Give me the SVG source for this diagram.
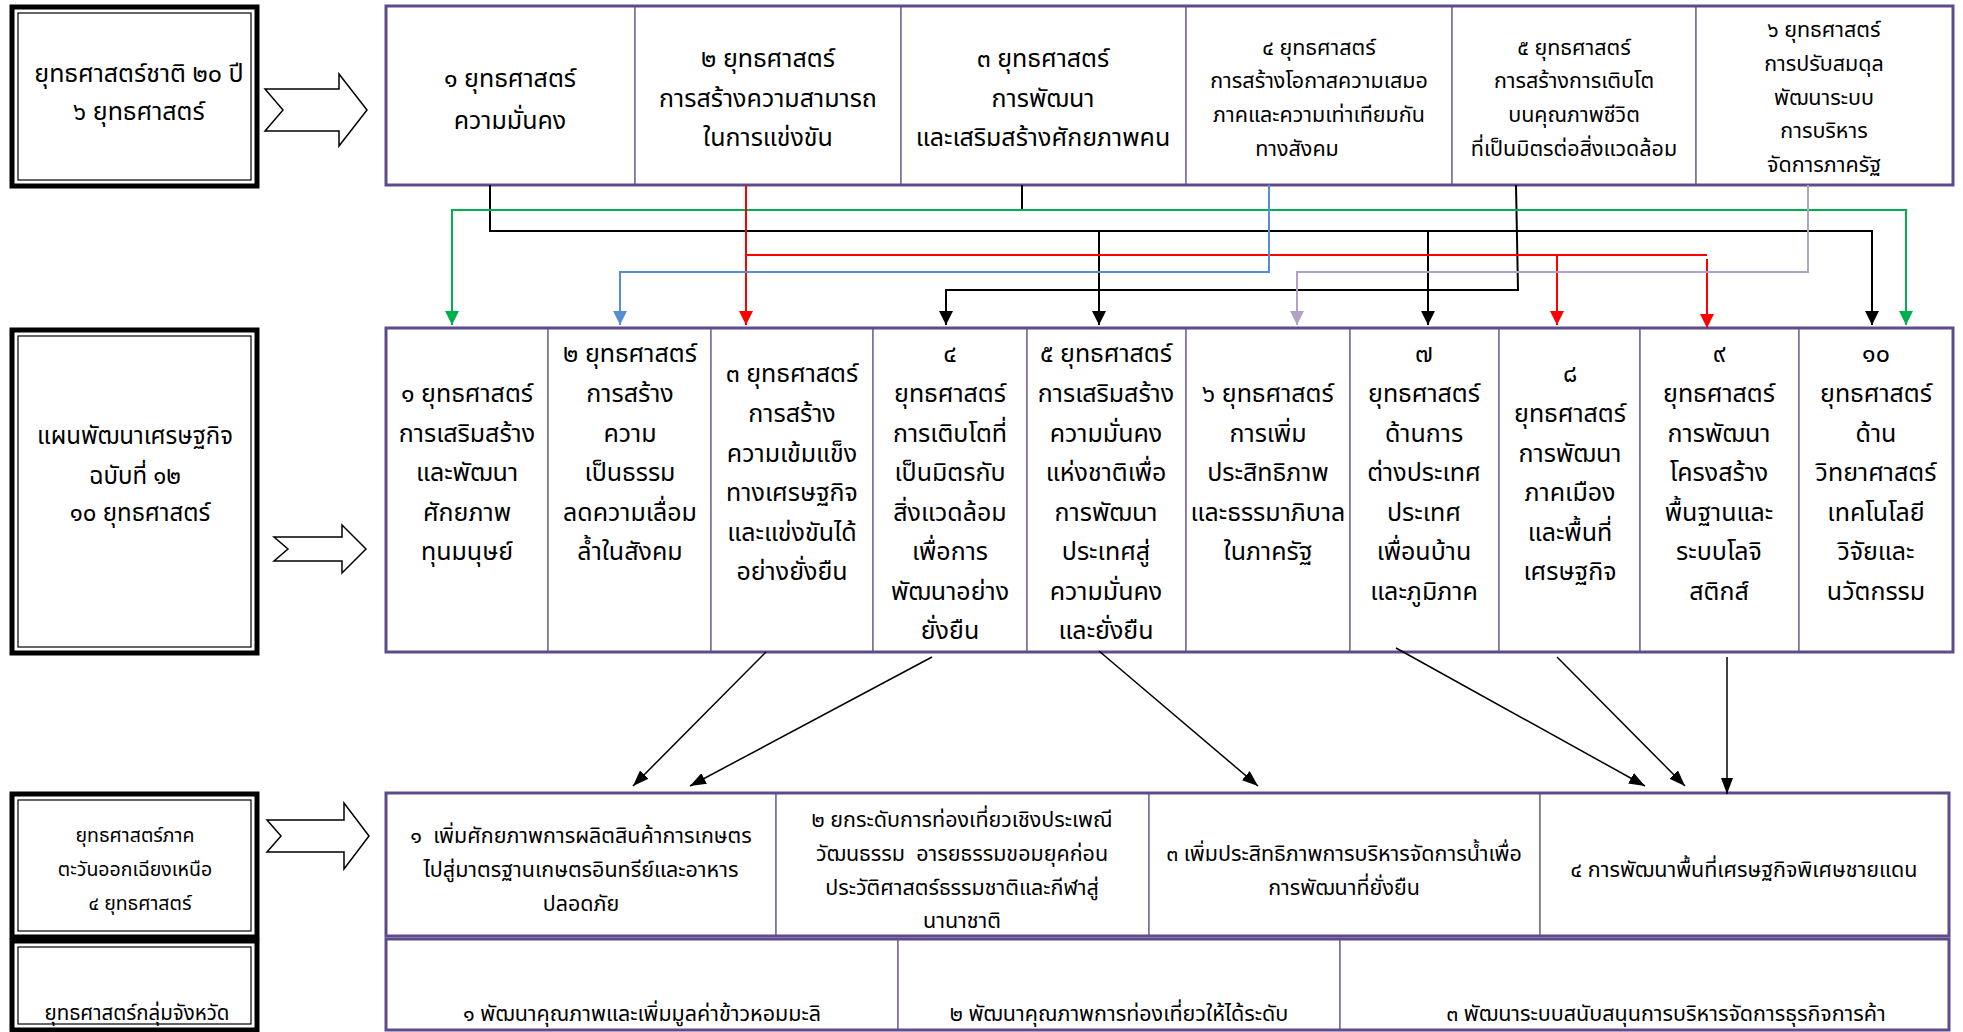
<svg xmlns="http://www.w3.org/2000/svg" width="1963" height="1032" viewBox="0 0 1963 1032">
<style>
text{font-family:"Noto Sans Thai","Noto Sans","DejaVu Sans",sans-serif;fill:#000;text-anchor:middle}
.t0{font-size:25px}
.t0b{font-size:24px}
.t1{font-size:25px}
.t1s{font-size:21.5px}
.t2{font-size:25px}
.t3{font-size:21.5px}
.t3l{font-size:19.5px}
.t4l{font-size:20.5px}
.lbl{fill:#fff;stroke:#000;stroke-width:5}
.lbli{fill:none;stroke:#000;stroke-width:1.2}
.box{fill:#fff;stroke:#7a6a98;stroke-width:1.5}
.frame{fill:none;stroke:#5f4b8b;stroke-width:3}
.arr{fill:#fff;stroke:#000;stroke-width:1.5}
.c{fill:none;stroke-width:2}
.k{stroke:#000}.g{stroke:#00b050}.r{stroke:#ff0000}.b{stroke:#558ed5}.l{stroke:#b3a2c7}
.d{fill:none;stroke:#000;stroke-width:1.5}
</style>
<defs>
<marker id="mk" viewBox="0 0 14 14" refX="14" refY="7" markerWidth="14" markerHeight="14" markerUnits="userSpaceOnUse" orient="auto"><path d="M0,0 L14,7 L0,14 z" fill="#000"/></marker>
<marker id="mg" viewBox="0 0 14 14" refX="14" refY="7" markerWidth="14" markerHeight="14" markerUnits="userSpaceOnUse" orient="auto"><path d="M0,0 L14,7 L0,14 z" fill="#00b050"/></marker>
<marker id="mr" viewBox="0 0 14 14" refX="14" refY="7" markerWidth="14" markerHeight="14" markerUnits="userSpaceOnUse" orient="auto"><path d="M0,0 L14,7 L0,14 z" fill="#ff0000"/></marker>
<marker id="mb" viewBox="0 0 14 14" refX="14" refY="7" markerWidth="14" markerHeight="14" markerUnits="userSpaceOnUse" orient="auto"><path d="M0,0 L14,7 L0,14 z" fill="#558ed5"/></marker>
<marker id="ml" viewBox="0 0 14 14" refX="14" refY="7" markerWidth="14" markerHeight="14" markerUnits="userSpaceOnUse" orient="auto"><path d="M0,0 L14,7 L0,14 z" fill="#b3a2c7"/></marker>
<marker id="md" viewBox="0 0 16 12" refX="16" refY="6" markerWidth="16" markerHeight="12" markerUnits="userSpaceOnUse" orient="auto"><path d="M0,0 L16,6 L0,12 z" fill="#000"/></marker>
</defs>
<rect width="1963" height="1032" fill="#fff"/>

<!-- Left labels -->
<g id="label-national">
<rect class="lbl" x="12" y="7" width="245" height="179"/>
<rect class="lbli" x="18" y="13" width="233" height="167"/>
<text class="t0" x="139" y="82">ยุทธศาสตร์ชาติ ๒๐ ปี</text>
<text class="t0" x="139" y="120">๖ ยุทธศาสตร์</text>
</g>
<g id="label-plan12">
<rect class="lbl" x="12" y="330" width="245" height="323"/>
<rect class="lbli" x="18" y="336" width="233" height="311"/>
<text class="t0b" x="135" y="444">แผนพัฒนาเศรษฐกิจ</text>
<text class="t0b" x="135" y="484">ฉบับที่ ๑๒</text>
<text class="t0b" x="140" y="521">๑๐ ยุทธศาสตร์</text>
</g>
<g id="label-northeast">
<rect class="lbl" x="12" y="794" width="245" height="143"/>
<rect class="lbli" x="18" y="800" width="233" height="131"/>
<text class="t3l" x="135" y="842">ยุทธศาสตร์ภาค</text>
<text class="t3l" x="135" y="876">ตะวันออกเฉียงเหนือ</text>
<text class="t3l" x="140" y="910">๔ ยุทธศาสตร์</text>
</g>
<g id="label-province">
<rect class="lbl" x="12" y="941" width="245" height="89"/>
<rect class="lbli" x="18" y="947" width="233" height="77"/>
<text class="t4l" x="137" y="1020">ยุทธศาสตร์กลุ่มจังหวัด</text>
</g>

<!-- Block arrows -->
<g id="arrow-1"><path class="arr" d="M265,89 L339,89 L339,74 L367,110 L339,146 L339,131 L265,131 L283,110 Z"/></g>
<g id="arrow-2"><path class="arr" d="M274,537 L342,537 L342,525 L366,549 L342,573 L342,561 L274,561 L288,549 Z"/></g>
<g id="arrow-3"><path class="arr" d="M267,820 L344,820 L344,803 L369,836 L344,869 L344,852 L267,852 L281,836 Z"/></g>

<!-- Row 1 -->
<g id="ns1"><rect class="box" x="386" y="6" width="249" height="179"/>
<text class="t1" x="510" y="87">๑ ยุทธศาสตร์</text><text class="t1" x="510" y="129">ความมั่นคง</text></g>
<g id="ns2"><rect class="box" x="635" y="6" width="266" height="179"/>
<text class="t1" x="768" y="67">๒ ยุทธศาสตร์</text><text class="t1" x="768" y="107">การสร้างความสามารถ</text><text class="t1" x="768" y="146">ในการแข่งขัน</text></g>
<g id="ns3"><rect class="box" x="901" y="6" width="285" height="179"/>
<text class="t1" x="1043" y="67">๓ ยุทธศาสตร์</text><text class="t1" x="1043" y="107">การพัฒนา</text><text class="t1" x="1043" y="146">และเสริมสร้างศักยภาพคน</text></g>
<g id="ns4"><rect class="box" x="1186" y="6" width="266" height="179"/>
<text class="t1s" x="1319" y="55">๔ ยุทธศาสตร์</text><text class="t1s" x="1319" y="88">การสร้างโอกาสความเสมอ</text><text class="t1s" x="1319" y="122">ภาคและความเท่าเทียมกัน</text><text class="t1s" x="1297" y="156">ทางสังคม</text></g>
<g id="ns5"><rect class="box" x="1452" y="6" width="244" height="179"/>
<text class="t1s" x="1574" y="55">๕ ยุทธศาสตร์</text><text class="t1s" x="1574" y="88">การสร้างการเติบโต</text><text class="t1s" x="1574" y="122">บนคุณภาพชีวิต</text><text class="t1s" x="1574" y="156">ที่เป็นมิตรต่อสิ่งแวดล้อม</text></g>
<g id="ns6"><rect class="box" x="1696" y="6" width="257" height="179"/>
<text class="t1s" x="1824" y="37">๖ ยุทธศาสตร์</text><text class="t1s" x="1824" y="71">การปรับสมดุล</text><text class="t1s" x="1824" y="105">พัฒนาระบบ</text><text class="t1s" x="1824" y="138">การบริหาร</text><text class="t1s" x="1824" y="172">จัดการภาครัฐ</text></g>
<rect class="frame" x="386" y="6" width="1567" height="179"/>

<!-- Row 2 -->
<g id="p1"><rect class="box" x="386" y="328" width="162" height="324"/>
<text class="t2"><tspan x="467" y="402">๑ ยุทธศาสตร์</tspan><tspan x="467" y="442">การเสริมสร้าง</tspan><tspan x="467" y="481">และพัฒนา</tspan><tspan x="467" y="521">ศักยภาพ</tspan><tspan x="467" y="560">ทุนมนุษย์</tspan></text></g>
<g id="p2"><rect class="box" x="548" y="328" width="163" height="324"/>
<text class="t2"><tspan x="630" y="362">๒ ยุทธศาสตร์</tspan><tspan x="630" y="402">การสร้าง</tspan><tspan x="630" y="442">ความ</tspan><tspan x="630" y="481">เป็นธรรม</tspan><tspan x="630" y="521">ลดความเลื่อม</tspan><tspan x="630" y="560">ล้ำในสังคม</tspan></text></g>
<g id="p3"><rect class="box" x="711" y="328" width="162" height="324"/>
<text class="t2"><tspan x="792" y="382">๓ ยุทธศาสตร์</tspan><tspan x="792" y="422">การสร้าง</tspan><tspan x="792" y="462">ความเข้มแข็ง</tspan><tspan x="792" y="501">ทางเศรษฐกิจ</tspan><tspan x="792" y="541">และแข่งขันได้</tspan><tspan x="792" y="580">อย่างยั่งยืน</tspan></text></g>
<g id="p4"><rect class="box" x="873" y="328" width="154" height="324"/>
<text class="t2"><tspan x="950" y="362">๔</tspan><tspan x="950" y="402">ยุทธศาสตร์</tspan><tspan x="950" y="442">การเติบโตที่</tspan><tspan x="950" y="481">เป็นมิตรกับ</tspan><tspan x="950" y="521">สิ่งแวดล้อม</tspan><tspan x="950" y="560">เพื่อการ</tspan><tspan x="950" y="600">พัฒนาอย่าง</tspan><tspan x="950" y="639">ยั่งยืน</tspan></text></g>
<g id="p5"><rect class="box" x="1027" y="328" width="159" height="324"/>
<text class="t2"><tspan x="1106" y="362">๕ ยุทธศาสตร์</tspan><tspan x="1106" y="402">การเสริมสร้าง</tspan><tspan x="1106" y="442">ความมั่นคง</tspan><tspan x="1106" y="481">แห่งชาติเพื่อ</tspan><tspan x="1106" y="521">การพัฒนา</tspan><tspan x="1106" y="560">ประเทศสู่</tspan><tspan x="1106" y="600">ความมั่นคง</tspan><tspan x="1106" y="639">และยั่งยืน</tspan></text></g>
<g id="p6"><rect class="box" x="1186" y="328" width="164" height="324"/>
<text class="t2"><tspan x="1268" y="402">๖ ยุทธศาสตร์</tspan><tspan x="1268" y="442">การเพิ่ม</tspan><tspan x="1268" y="481">ประสิทธิภาพ</tspan><tspan x="1268" y="521">และธรรมาภิบาล</tspan><tspan x="1268" y="560">ในภาครัฐ</tspan></text></g>
<g id="p7"><rect class="box" x="1350" y="328" width="149" height="324"/>
<text class="t2"><tspan x="1424" y="362">๗</tspan><tspan x="1424" y="402">ยุทธศาสตร์</tspan><tspan x="1424" y="442">ด้านการ</tspan><tspan x="1424" y="481">ต่างประเทศ</tspan><tspan x="1424" y="521">ประเทศ</tspan><tspan x="1424" y="560">เพื่อนบ้าน</tspan><tspan x="1424" y="600">และภูมิภาค</tspan></text></g>
<g id="p8"><rect class="box" x="1499" y="328" width="141" height="324"/>
<text class="t2"><tspan x="1570" y="382">๘</tspan><tspan x="1570" y="422">ยุทธศาสตร์</tspan><tspan x="1570" y="462">การพัฒนา</tspan><tspan x="1570" y="501">ภาคเมือง</tspan><tspan x="1570" y="541">และพื้นที่</tspan><tspan x="1570" y="580">เศรษฐกิจ</tspan></text></g>
<g id="p9"><rect class="box" x="1640" y="328" width="159" height="324"/>
<text class="t2"><tspan x="1719" y="362">๙</tspan><tspan x="1719" y="402">ยุทธศาสตร์</tspan><tspan x="1719" y="442">การพัฒนา</tspan><tspan x="1719" y="481">โครงสร้าง</tspan><tspan x="1719" y="521">พื้นฐานและ</tspan><tspan x="1719" y="560">ระบบโลจิ</tspan><tspan x="1719" y="600">สติกส์</tspan></text></g>
<g id="p10"><rect class="box" x="1799" y="328" width="154" height="324"/>
<text class="t2"><tspan x="1876" y="362">๑๐</tspan><tspan x="1876" y="402">ยุทธศาสตร์</tspan><tspan x="1876" y="442">ด้าน</tspan><tspan x="1876" y="481">วิทยาศาสตร์</tspan><tspan x="1876" y="521">เทคโนโลยี</tspan><tspan x="1876" y="560">วิจัยและ</tspan><tspan x="1876" y="600">นวัตกรรม</tspan></text></g>
<rect class="frame" x="386" y="328" width="1567" height="324"/>

<!-- Row 3 -->
<g id="ne1"><rect class="box" x="386" y="793" width="390" height="143"/>
<text class="t3"><tspan x="581" y="843">๑ &#160;เพิ่มศักยภาพการผลิตสินค้าการเกษตร</tspan><tspan x="581" y="877">ไปสู่มาตรฐานเกษตรอินทรีย์และอาหาร</tspan><tspan x="581" y="911">ปลอดภัย</tspan></text></g>
<g id="ne2"><rect class="box" x="776" y="793" width="373" height="143"/>
<text class="t3"><tspan x="962" y="827">๒ ยกระดับการท่องเที่ยวเชิงประเพณี</tspan><tspan x="962" y="861">วัฒนธรรม &#160;อารยธรรมขอมยุคก่อน</tspan><tspan x="962" y="895">ประวัติศาสตร์ธรรมชาติและกีฬาสู่</tspan><tspan x="962" y="928">นานาชาติ</tspan></text></g>
<g id="ne3"><rect class="box" x="1149" y="793" width="391" height="143"/>
<text class="t3"><tspan x="1344" y="861">๓ เพิ่มประสิทธิภาพการบริหารจัดการน้ำเพื่อ</tspan><tspan x="1344" y="895">การพัฒนาที่ยั่งยืน</tspan></text></g>
<g id="ne4"><rect class="box" x="1540" y="793" width="409" height="143"/>
<text class="t3" x="1744" y="877">๔ การพัฒนาพื้นที่เศรษฐกิจพิเศษชายแดน</text></g>
<rect class="frame" x="386" y="793" width="1563" height="143"/>

<!-- Row 4 -->
<g id="pg1"><rect class="box" x="386" y="939" width="512" height="91"/>
<text class="t3" x="642" y="1021">๑ พัฒนาคุณภาพและเพิ่มมูลค่าข้าวหอมมะลิ</text></g>
<g id="pg2"><rect class="box" x="898" y="939" width="442" height="91"/>
<text class="t3" x="1119" y="1021">๒ พัฒนาคุณภาพการท่องเที่ยวให้ได้ระดับ</text></g>
<g id="pg3"><rect class="box" x="1340" y="939" width="609" height="91"/>
<text class="t3" x="1666" y="1021">๓ พัฒนาระบบสนับสนุนการบริหารจัดการธุรกิจการค้า</text></g>
<rect class="frame" x="386" y="939" width="1563" height="91"/>

<!-- Connectors -->
<g id="connectors">
<path class="c k" d="M490,185 V231 H1872 V325" marker-end="url(#mk)"/>
<path class="c k" d="M1099,231 V325" marker-end="url(#mk)"/>
<path class="c k" d="M1428,231 V325" marker-end="url(#mk)"/>
<path class="c k" d="M1022,185 V210"/>
<path class="c k" d="M1516,185 L1518,290 H946 V325" marker-end="url(#mk)"/>
<path class="c g" d="M1022,210 H452 V325" marker-end="url(#mg)"/>
<path class="c g" d="M1022,210 H1906 V325" marker-end="url(#mg)"/>
<path class="c r" d="M746,185 V325" marker-end="url(#mr)"/>
<path class="c r" d="M746,255 H1707"/>
<path class="c r" d="M1557,255 V325" marker-end="url(#mr)"/>
<path class="c r" d="M1707,259 V328" marker-end="url(#mr)"/>
<path class="c b" d="M1269,185 V272 H620 V325" marker-end="url(#mb)"/>
<path class="c l" d="M1808,185 V272 H1297 V325" marker-end="url(#ml)"/>
<path class="d" d="M766,652 L633,786" marker-end="url(#md)"/>
<path class="d" d="M932,657 L690,786" marker-end="url(#md)"/>
<path class="d" d="M1099,651 L1258,786" marker-end="url(#md)"/>
<path class="d" d="M1396,648 L1645,786" marker-end="url(#md)"/>
<path class="d" d="M1557,657 L1685,786" marker-end="url(#md)"/>
<path class="d" d="M1727,657 V794" marker-end="url(#md)"/>
</g>
</svg>
